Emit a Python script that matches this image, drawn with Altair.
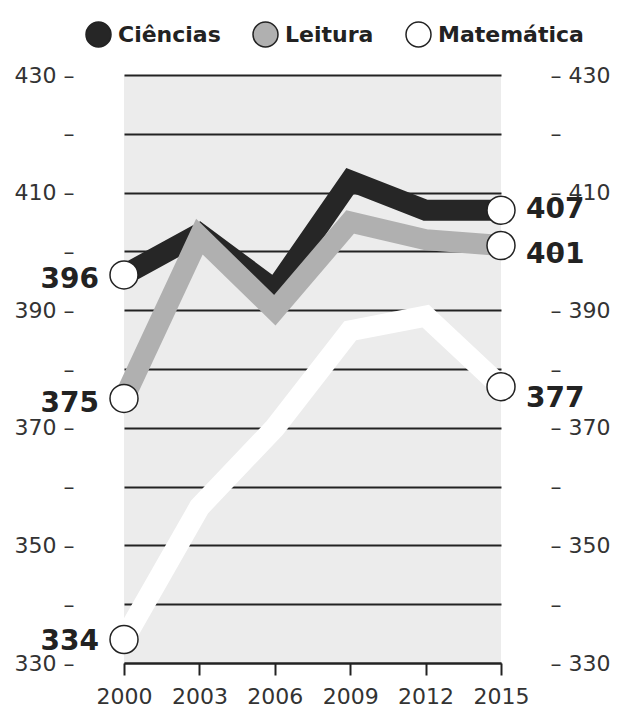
import altair as alt
import pandas as pd

# ---- data ----
years = [2000, 2003, 2006, 2009, 2012, 2015]
subjects = ["Ciências", "Leitura", "Matemática"]
ciencias = [396, 403, 393.5, 412, 407, 407]
leitura = [375, 402.5, 390, 405, 402, 401]
matematica = [334, 356.5, 370, 386.5, 389, 377]
y_ticks = [330, 340, 350, 360, 370, 380, 390, 400, 410, 420, 430]

colors = ["#262626", "#b0b0b0", "#ffffff"]
FONT = "DejaVu Sans"

rows = []
for s, vals in zip(subjects, [ciencias, leitura, matematica]):
    for i, (yr, v) in enumerate(zip(years, vals)):
        rows.append({"subject": s, "year": yr, "value": v, "order": i})
df = pd.DataFrame(rows)

X = alt.X(
    "year:Q",
    scale=alt.Scale(domain=[2000, 2015], nice=False, zero=False),
    axis=alt.Axis(
        values=years, format="d", title=None, grid=False,
        domain=True, domainColor="#222", domainWidth=2,
        ticks=True, tickColor="#222", tickWidth=2, tickSize=12,
        labelFontSize=22, labelColor="#333", labelFont=FONT,
        labelPadding=11, labelFlush=False, labelOverlap=False,
    ),
)
yscale = alt.Scale(domain=[330, 430], nice=False, zero=False)

left_axis = alt.Axis(
    orient="left", values=y_ticks, title=None, domain=False,
    ticks=False, tickSize=0, grid=True, gridColor="#222", gridWidth=2,
    labelExpr="datum.value % 20 == 10 ? datum.label + ' –' : '–'",
    labelFontSize=22, labelColor="#333", labelFont=FONT,
    labelPadding=50, labelOverlap=False,
)
right_axis = alt.Axis(
    orient="right", values=y_ticks, title=None, domain=False,
    ticks=False, tickSize=0, grid=False,
    labelExpr="datum.value % 20 == 10 ? '– ' + datum.label : '–'",
    labelFontSize=22, labelColor="#333", labelFont=FONT,
    labelPadding=49, labelOverlap=False,
)

base = alt.Chart(df)

# line colours follow the data order (alphabetical = subjects order)
lines = base.mark_line(
    strokeWidth=21, strokeJoin="miter", strokeCap="butt"
).encode(
    x=X,
    y=alt.Y("value:Q", scale=yscale, axis=left_axis),
    color=alt.Color("subject:N", scale=alt.Scale(range=colors), legend=None),
    order="order:Q",
)

ends = base.transform_filter(
    "datum.year == 2000 || datum.year == 2015"
).mark_point(
    shape="circle", filled=True, fill="#ffffff", stroke="#222",
    strokeWidth=1.5, size=784, opacity=1
).encode(
    x=X,
    y=alt.Y("value:Q", scale=yscale, axis=right_axis),
)

# label nudges (in pixels) as placed in the reference
label_dy = {
    ("Ciências", 2000): 5, ("Leitura", 2000): 6, ("Matemática", 2000): 3,
    ("Ciências", 2015): 0, ("Leitura", 2015): 9, ("Matemática", 2015): 12,
}

text_layers = []
for (subj, yr), dy in label_dy.items():
    left = yr == 2000
    text_layers.append(
        base.transform_filter(
            f"datum.year == {yr} && datum.subject == '{subj}'"
        ).mark_text(
            align="right" if left else "left", baseline="middle",
            dx=-25 if left else 25, dy=dy,
            fontSize=28, fontWeight="bold", color="#222", font=FONT
        ).encode(
            x=X,
            y=alt.Y("value:Q", scale=yscale, axis=None),
            text=alt.Text("value:Q", format="d"),
        )
    )

legend_layer = base.transform_filter("false").transform_calculate(
    disciplina="datum.subject"
).mark_point(
    shape="circle", filled=True, stroke="#222", strokeWidth=1.5, opacity=1
).encode(
    x=X,
    y=alt.Y("value:Q", scale=yscale, axis=None),
    fill=alt.Fill(
        "disciplina:N",
        scale=alt.Scale(domain=subjects, range=colors),
        legend=alt.Legend(
            orient="none", legendX=-39, legendY=-54, direction="horizontal",
            title=None, symbolType="circle", symbolSize=625,
            symbolStrokeColor="#222", symbolStrokeWidth=1.5, symbolOpacity=1,
            labelFontSize=22, labelFontWeight="bold", labelColor="#222",
            labelFont=FONT, labelOffset=6, columnPadding=29, padding=0,
            labelLimit=300,
        ),
    ),
)

chart = alt.layer(
    lines, ends, *text_layers, legend_layer
).resolve_scale(
    y="shared"
).resolve_axis(
    y="independent"
).properties(
    width=377, height=588,
    padding={"left": 124, "top": 75, "right": 116, "bottom": 45},
    autosize=alt.AutoSizeParams(type="none"),
    background="#ffffff",
).configure(
    font=FONT
).configure_view(
    fill="#ececec", stroke=None
)

chart.save("out.html", embed_options={"renderer": "svg", "actions": False})
